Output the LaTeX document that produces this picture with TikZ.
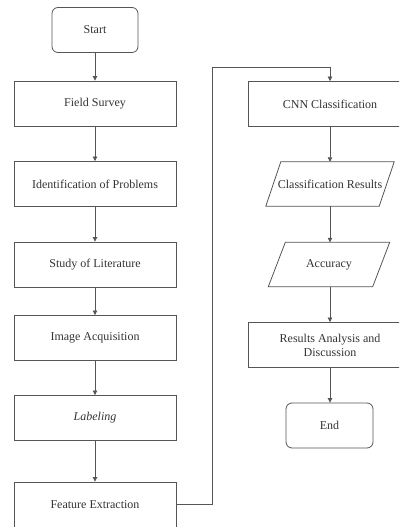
\documentclass[tikz,border=0pt]{standalone}
\usepackage{fontspec}
\setmainfont{Liberation Serif}
\usetikzlibrary{arrows.meta}
\definecolor{lc}{HTML}{555555}
\definecolor{tc}{HTML}{333333}
\tikzset{
  box/.style={draw=lc, line width=0.8pt, minimum width=162pt, minimum height=45pt, inner sep=2pt, text=tc, font=\fontsize{12}{14}\selectfont, align=center},
  term/.style={box, rounded corners=6pt, minimum width=86pt},
  para/.style={minimum height=44pt, inner sep=0pt, text=tc, font=\fontsize{12}{14}\selectfont},
  pline/.style={draw=lc, line width=0.8pt},
  conn/.style={draw=lc, line width=0.7pt, -{Triangle[width=4.5pt,length=4.5pt]}}
}
\begin{document}
\begin{tikzpicture}[x=1pt,y=-1pt]
\useasboundingbox (0,0) rectangle (399,527);
\clip (0,0) rectangle (399,527);
% left column
\node[term] (start) at (95,30) {Start};
\node[box] (field) at (95,103.5) {Field Survey};
\node[box] (ident) at (95,184) {Identification of Problems};
\node[box] (study) at (95,264.5) {Study of Literature};
\node[box] (image) at (95,338) {Image Acquisition};
\node[box] (label) at (95,418) {\itshape Labeling};
\node[box] (feat) at (95,504.5) {Feature Extraction};
% right column
\node[box, minimum width=164pt] (cnn) at (330,104) {CNN Classification};
\node[para, minimum width=113pt] (cres) at (330,184) {Classification Results};
\draw[pline] ([xshift=7.5pt]cres.north west) -- ([xshift=7.5pt]cres.north east) -- ([xshift=-7.5pt]cres.south east) -- ([xshift=-7.5pt]cres.south west) -- cycle;
\node[para, minimum width=104pt] (acc) at (329,264.5) {Accuracy};
\draw[pline] ([xshift=8.5pt]acc.north west) -- ([xshift=8.5pt]acc.north east) -- ([xshift=-8.5pt]acc.south east) -- ([xshift=-8.5pt]acc.south west) -- cycle;
\node[box, minimum width=164pt] (res) at (330,345) {Results Analysis and\\Discussion};
\node[term, minimum width=87pt] (end) at (329.5,425.5) {End};
% connectors
\draw[conn] (start) -- (field);
\draw[conn] (field) -- (ident);
\draw[conn] (ident) -- (study);
\draw[conn] (study) -- (image);
\draw[conn] (image) -- (label);
\draw[conn] (label) -- (feat);
\coordinate (c1) at (212,67);
\draw[conn] (feat.east) -| (c1) -| (cnn.north);
\draw[conn] (cnn) -- (cnn.south |- cres.north);
\draw[conn] (cres.south -| cnn.south) -- (acc.north -| cnn.south);
\draw[conn] (acc.south -| cnn.south) -- (res.north);
\draw[conn] (res.south -| cnn.south) -- (end.north -| cnn.south);
\end{tikzpicture}
\end{document}
